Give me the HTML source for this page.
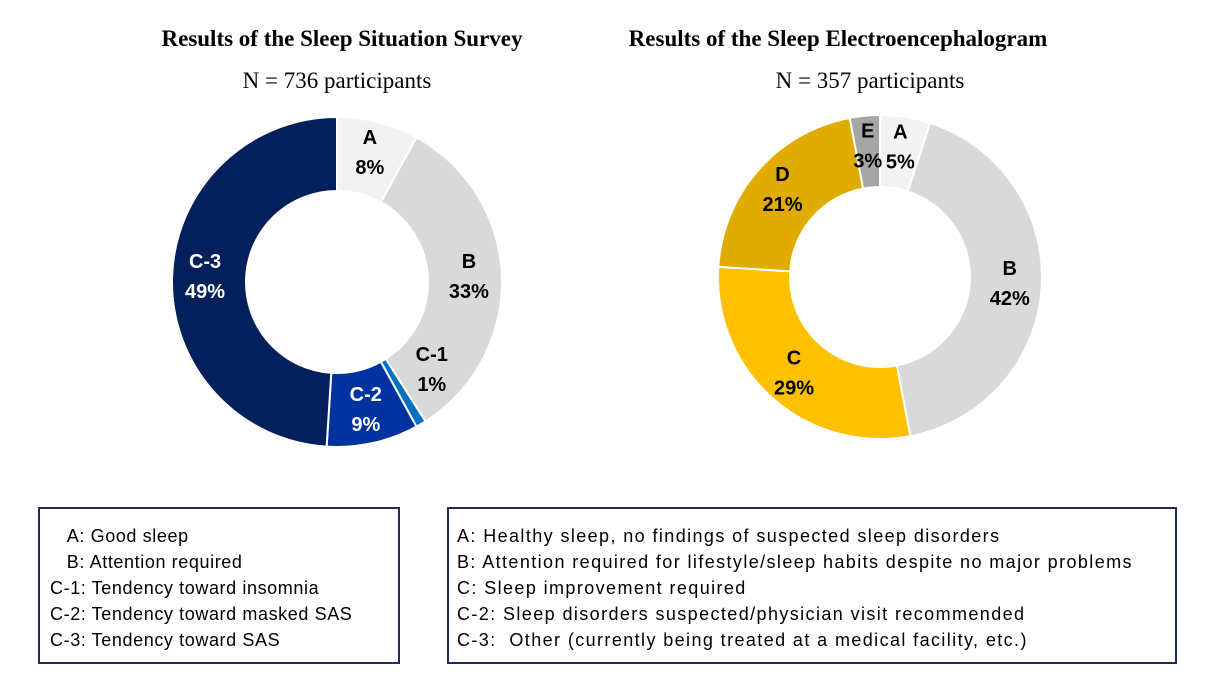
<!DOCTYPE html>
<html><head><meta charset="utf-8"><style>
body{margin:0;background:#fff;width:1209px;height:684px;overflow:hidden;font-family:"Liberation Sans",sans-serif}
.t{position:absolute;font-family:"Liberation Serif",serif;font-size:23px;text-align:center;white-space:nowrap}
.box{position:absolute;border:2px solid #1f2a5a;box-sizing:border-box;font-size:18px;line-height:26px;padding-top:14px;white-space:nowrap}
</style></head><body>
<div class="t" style="left:92px;top:26px;width:500px;font-weight:bold">Results of the Sleep Situation Survey</div>
<div class="t" style="left:137px;top:68px;width:400px">N = 736 participants</div>
<div class="t" style="left:588px;top:26px;width:500px;font-weight:bold">Results of the Sleep Electroencephalogram</div>
<div class="t" style="left:670px;top:68px;width:400px">N = 357 participants</div>
<svg id="svg" width="1209" height="684" style="position:absolute;left:0;top:0"></svg>
<div class="box" style="left:38px;top:507px;width:362px;height:157px;padding-left:10px;letter-spacing:0.6px">
<div>&nbsp;&nbsp;&nbsp;A: Good sleep</div>
<div>&nbsp;&nbsp;&nbsp;B: Attention required</div>
<div>C-1: Tendency toward insomnia</div>
<div>C-2: Tendency toward masked SAS</div>
<div>C-3: Tendency toward SAS</div>
</div>
<div class="box" style="left:447px;top:507px;width:730px;height:157px;padding-left:8px;letter-spacing:1.4px">
<div>A: Healthy sleep, no findings of suspected sleep disorders</div>
<div>B: Attention required for lifestyle/sleep habits despite no major problems</div>
<div>C: Sleep improvement required</div>
<div>C-2: Sleep disorders suspected/physician visit recommended</div>
<div>C-3:&nbsp; Other (currently being treated at a medical facility, etc.)</div>
</div>
<script>
const leftCats=["A","B","C-1","C-2","C-3"];
const leftVals=[8,33,1,9,49];
const rightCats=["A","B","C","D","E"];
const rightVals=[5,42,29,21,3];
const leftColors=["#f2f2f2","#d9d9d9","#0070c0","#0033a0","#03205c"];
const leftText=["#000","#000","#000","#fff","#fff"];
const rightColors=["#f2f2f2","#d9d9d9","#ffc000","#e0ac00","#a6a6a6"];
const svg=document.getElementById('svg');
const NS="http://www.w3.org/2000/svg";
function pt(cx,cy,r,f){const a=f*2*Math.PI-Math.PI/2;return [cx+r*Math.cos(a),cy+r*Math.sin(a)];}
function donut(cats,vals,colors,tcol,cx,cy,R,r,name){
 const tot=vals.reduce((a,b)=>a+b,0);let acc=0;
 cats.forEach((c,i)=>{
  const f0=acc/tot,f1=(acc+vals[i])/tot;acc+=vals[i];
  const lg=(f1-f0)>0.5?1:0;
  const [x0,y0]=pt(cx,cy,R,f0),[x1,y1]=pt(cx,cy,R,f1),[x2,y2]=pt(cx,cy,r,f1),[x3,y3]=pt(cx,cy,r,f0);
  const p=document.createElementNS(NS,'path');
  p.setAttribute('d',`M${x0} ${y0}A${R} ${R} 0 ${lg} 1 ${x1} ${y1}L${x2} ${y2}A${r} ${r} 0 ${lg} 0 ${x3} ${y3}Z`);
  p.setAttribute('fill',colors[i]);p.setAttribute('stroke','#fff');p.setAttribute('stroke-width','2');
  
  
  svg.appendChild(p);
  const fm=(f0+f1)/2;let [lx,ly]=pt(cx,cy,(R+r)/2+4,fm);
  if(vals[i]<2){[lx,ly]=pt(cx,cy,(R+r)/2+2,fm-0.045);}
  [[c,-10],[vals[i]+'%',20]].forEach(([s,dy])=>{
   const t=document.createElementNS(NS,'text');
   t.setAttribute('x',lx);t.setAttribute('y',ly+dy);t.setAttribute('text-anchor','middle');
   t.setAttribute('font-size','20');t.setAttribute('font-weight','bold');t.setAttribute('fill',tcol[i]);
   t.setAttribute('font-family','Liberation Sans, sans-serif');
   
   
   t.textContent=s;svg.appendChild(t);
  });
 });
}
donut(leftCats,leftVals,leftColors,leftText,337,282,165,91,'left');
donut(rightCats,rightVals,rightColors,["#000","#000","#000","#000","#000"],880,277,162,90,'right');
</script>
</body></html>
